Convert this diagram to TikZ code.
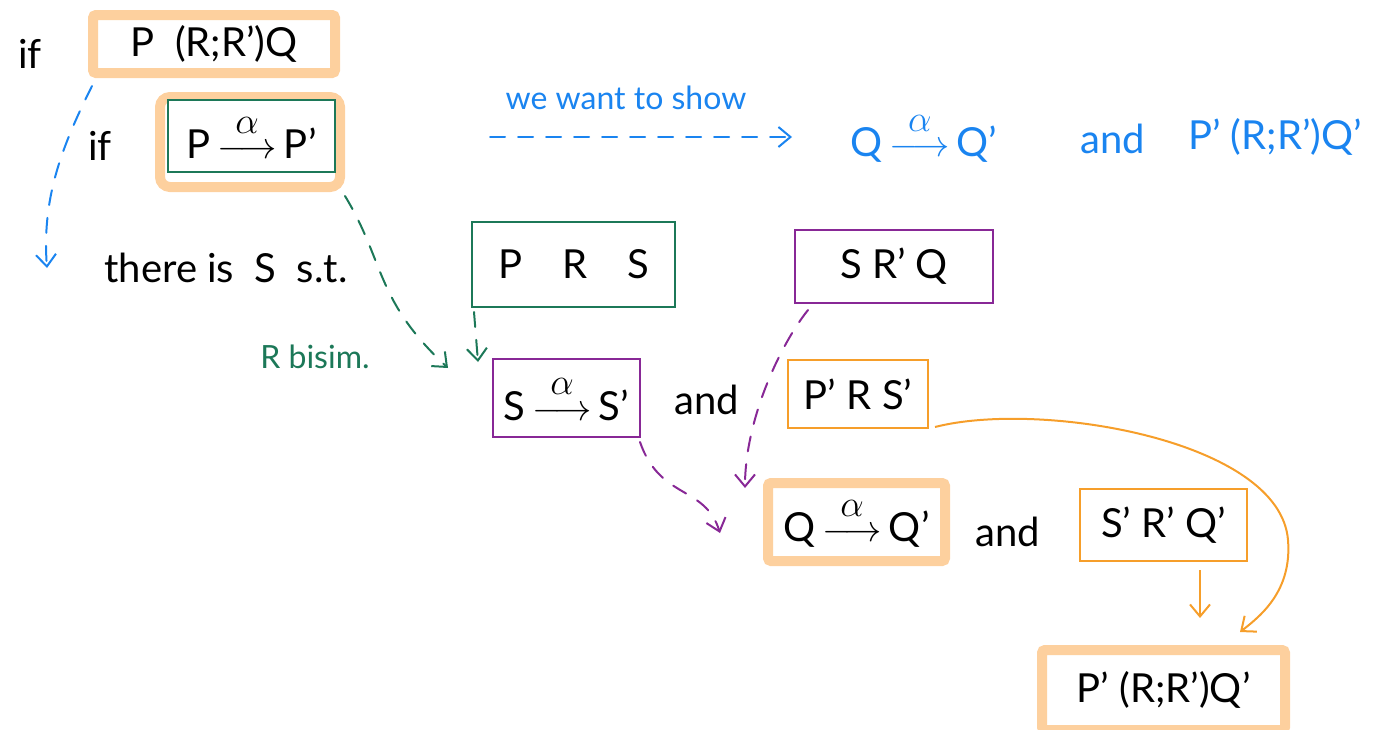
\documentclass[tikz,border=0pt]{standalone}
\usepackage{amsmath}
\usepackage{graphicx}
\usepackage{fontspec}
\setmainfont{Lato}
\usetikzlibrary{arrows.meta}
\definecolor{peach}{RGB}{253,208,158}
\definecolor{ornge}{RGB}{246,158,42}
\definecolor{grn}{RGB}{28,120,88}
\definecolor{prp}{RGB}{136,40,150}
\definecolor{blu}{RGB}{26,132,240}
% labelled transition arrow, label lifted clear of the arrow
\newcommand{\tr}{\,\scalebox{1.5}{$\overset{\raisebox{3pt}{$\alpha$}}{\longrightarrow}$}\,}
\begin{document}
\begin{tikzpicture}[x=1pt,y=-1pt,
  hand/.style={font=\fontsize{40}{46}\selectfont, text=black, inner sep=0pt},
  note/.style={font=\fontsize{32}{36}\selectfont, inner sep=0pt},
  hl/.style={draw=peach, line width=10pt, fill=white, rounded corners=3pt, hand},
  hlwrap/.style={draw=peach, line width=10pt, rounded corners=10pt},
  gbox/.style={draw=grn, line width=2pt, fill=white, hand},
  pbox/.style={draw=prp, line width=2pt, fill=white, hand},
  obox/.style={draw=ornge, line width=2pt, fill=white, hand},
  tipbarb/.style={-{Straight Barb[length=12pt,width=20pt,line width=2pt]}},
  dashline/.style={line width=2pt, dash pattern=on 15pt off 13pt, line cap=round},
]
\useasboundingbox (0,0) rectangle (1394,729);

% premise: P (R;R') Q
\node[hand] (if1) at (30,54) {if};
\node[hl, minimum width=242, minimum height=58] (b1) at (214,44) {P\ \ (R;R')Q};

% transition of P
\node[hand] (if2) at (100,146) {if};
\node[hlwrap, minimum width=180, minimum height=90] (b2h) at (250,142) {};
\node[gbox, minimum width=167, minimum height=72] (b2) at (251.5,136) {P\tr P'};

% goal
\node[note, text=blu] (want) at (626,98) {we want to show};
\coordinate (w0) at (490,137);
\coordinate (w1) at (792,137);
\draw[blu, dashline, tipbarb] (w0) -- (w1);
\node[hand, text=blu] (goal1) at (924,137) {Q\tr Q'};
\node[hand, text=blu] (goal2) at (1113,139) {and};
\node[hand, text=blu] (goal3) at (1275,137) {P' (R;R')Q'};

% existence of S
\coordinate (c0) at (92,86);
\coordinate (c1) at (47,268);
\draw[blu, dashline, tipbarb] (c0) .. controls (60,150) and (42,200) .. (c1);
\node[hand] (there) at (226,268) {there is\ \ S\ \ s.t.};
\node[gbox, minimum width=203, minimum height=85] (prs) at (573.5,264.5) {P\quad R\quad S};
\node[pbox, minimum width=198, minimum height=73] (srq) at (894,266.5) {S\ R'\ Q};

% bisimulation step
\node[note, text=grn] (bis) at (315,357) {R bisim.};
\coordinate (g0) at (345,196);
\coordinate (g1) at (448,368);
\draw[grn, dashline, tipbarb] (g0) .. controls (385,262) and (375,300) .. (g1);
\coordinate (g2) at (474,312);
\coordinate (g3) at (478,362);
\draw[grn, dashline, tipbarb] (g2) -- (g3);

\node[pbox, minimum width=147, minimum height=78] (ss) at (566.5,398) {S\tr S'};
\node[hand] (and1) at (707,400) {and};
\node[obox, minimum width=140, minimum height=68] (prs2) at (858,394) {P' R\ S'};

% second bisimulation step
\coordinate (p0) at (808,310);
\coordinate (p1) at (745,488);
\draw[prp, dashline, tipbarb] (p0) .. controls (780,345) and (745,420) .. (p1);
\coordinate (p2) at (640,442);
\coordinate (p3) at (720,533);
\draw[prp, dashline, tipbarb] (p2) .. controls (660,500) and (705,485) .. (p3);

\node[hl, minimum width=177, minimum height=78] (qq) at (856.5,522) {Q\tr Q'};
\node[hand] (and2) at (1008,532) {and};
\node[obox, minimum width=167, minimum height=72] (srq2) at (1163.5,525) {S' R' Q'};

% conclusion
\node[hl, minimum width=243, minimum height=80] (fin) at (1163.5,690) {P' (R;R')Q'};
\coordinate (o0) at (1200,570);
\coordinate (o1) at (1200,618);
\draw[ornge, line width=2pt, tipbarb] (o0) -- (o1);
\coordinate (o2) at (935,427);
\coordinate (o3) at (1240,632);
\draw[ornge, line width=2pt, tipbarb] (o2) .. controls (1040,400) and (1280,440) .. (1288,540)
  .. controls (1292,590) and (1262,615) .. (o3);
\end{tikzpicture}
\end{document}
